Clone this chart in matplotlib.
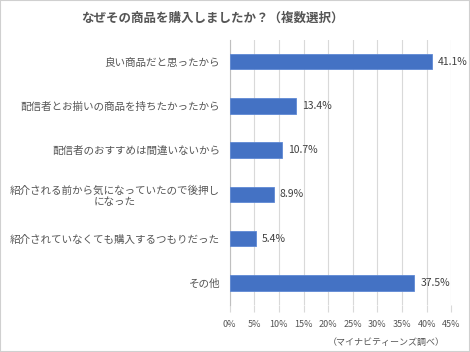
import matplotlib.pyplot as plt
from matplotlib.patches import Rectangle

plt.rcParams['font.family'] = ['Noto Sans CJK JP', 'DejaVu Sans']

categories = [
    '良い商品だと思ったから',
    '配信者とお揃いの商品を持ちたかったから',
    '配信者のおすすめは間違いないから',
    '紹介される前から気になっていたので後押し\nになった',
    '紹介されていなくても購入するつもりだった',
    'その他',
]
values = [41.1, 13.4, 10.7, 8.9, 5.4, 37.5]
xticks = [0, 5, 10, 15, 20, 25, 30, 35, 40, 45]

title = 'なぜその商品を購入しましたか？（複数選択）'
source = '（マイナビティーンズ調べ）'

fig = plt.figure(figsize=(4.7, 3.52), dpi=100)
ax = fig.add_axes([0.4887, 0.1335, 0.4715, 0.754])

pos = list(range(len(categories)))
ax.barh(pos, values, height=0.35, color='#4472C4', edgecolor='#5f89d4', linewidth=0.6, zorder=3)
for p, v in zip(pos, values):
    ax.text(v + 1.2, p, f'{v}%', va='center', ha='left', fontsize=7.5, color='#404040')

ax.set_ylim(len(categories) - 0.5, -0.5)
ax.set_xlim(0, 45)
ax.set_yticks(pos)
ax.set_yticklabels(categories, fontsize=7.6, color='#555555', multialignment='center')
ax.set_xticks(xticks)
ax.set_xticklabels([f'{t}%' for t in xticks], fontsize=6.5, color='#555555')

ax.grid(axis='x', color='#d9d9d9', linewidth=0.8, zorder=0)
for s in ['top', 'right', 'bottom']:
    ax.spines[s].set_visible(False)
ax.spines['left'].set_color('#bfbfbf')
ax.spines['left'].set_linewidth(0.8)
ax.tick_params(axis='y', length=0, pad=7)
ax.tick_params(axis='x', length=5, color='#d9d9d9', pad=6)

fig.text(0.452, 0.948, title, ha='center', va='center', fontsize=9,
         fontweight='bold', color='#555555')
fig.text(0.946, 0.028, source, ha='right', va='center', fontsize=6.5, color='#555555')

fig.patches.append(Rectangle((0, 0), 1, 1, transform=fig.transFigure, fill=False,
                             edgecolor='#d0d0d0', linewidth=1.5))

fig.savefig('out.png', dpi=100)
